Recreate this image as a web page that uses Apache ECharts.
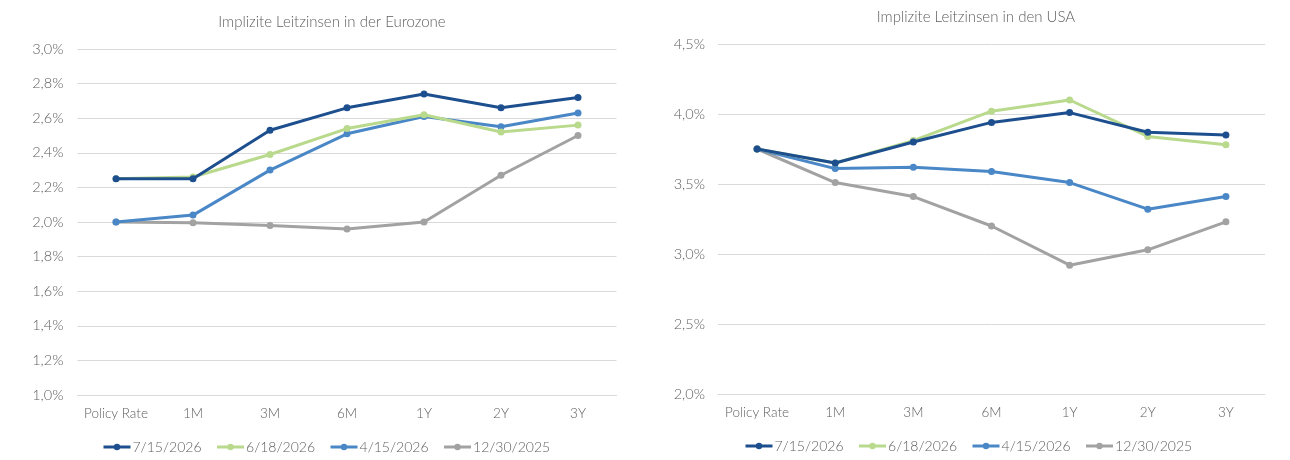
<!DOCTYPE html>
<html>
<head>
<meta charset="utf-8">
<script src="https://cdn.jsdelivr.net/npm/echarts@6/dist/echarts.min.js"></script>
<style>html,body{margin:0;padding:0;background:#fff;}#c{width:1290px;height:460px;}</style>
</head>
<body>
<div id="c"></div>
<script>
const categories = ['Policy Rate', '1M', '3M', '6M', '1Y', '2Y', '3Y'];
const seriesNames = ['7/15/2026', '6/18/2026', '4/15/2026', '12/30/2025'];
const colors = ['#1d4f8f', '#b9d98c', '#4a87c6', '#a2a2a2'];

const euro_0715 = [2.25, 2.25, 2.53, 2.66, 2.74, 2.66, 2.72];
const euro_0618 = [2.25, 2.26, 2.39, 2.54, 2.62, 2.52, 2.56];
const euro_0415 = [2.00, 2.04, 2.30, 2.51, 2.61, 2.55, 2.63];
const euro_1230 = [2.00, 1.995, 1.98, 1.96, 2.00, 2.27, 2.50];

const usa_0715 = [3.75, 3.65, 3.80, 3.94, 4.01, 3.87, 3.85];
const usa_0618 = [3.75, 3.65, 3.81, 4.02, 4.10, 3.84, 3.78];
const usa_0415 = [3.75, 3.61, 3.62, 3.59, 3.51, 3.32, 3.41];
const usa_1230 = [3.75, 3.51, 3.41, 3.20, 2.92, 3.03, 3.23];

const euroTitle = 'Implizite Leitzinsen in der Eurozone';
const usaTitle = 'Implizite Leitzinsen in den USA';

const euroData = [euro_0715, euro_0618, euro_0415, euro_1230];
const usaData = [usa_0715, usa_0618, usa_0415, usa_1230];

const font = 'Lato, "Open Sans", sans-serif';
const txt = '#606060';
const fmt = v => v.toFixed(1).replace('.', ',') + '%';

function mkSeries(dataArr, idx) {
  return dataArr.map((d, i) => ({
    name: seriesNames[i],
    type: 'line',
    xAxisIndex: idx,
    yAxisIndex: idx,
    data: d,
    symbol: 'circle',
    symbolSize: 7,
    color: colors[i],
    lineStyle: { width: 3, color: colors[i] },
    itemStyle: { color: colors[i] },
    z: 10 - i
  }));
}

const chart = echarts.init(document.getElementById('c'), null, { renderer: 'canvas' });
const axisX = gi => ({
  type: 'category', gridIndex: gi, data: categories, boundaryGap: true,
  axisLine: { show: true, lineStyle: { color: '#d9d9d9' } },
  axisTick: { show: false },
  axisLabel: { color: txt, fontFamily: font, fontSize: 13.5, margin: 12, interval: 0, fontWeight: 300 }
});
const legendBase = {
  data: seriesNames, itemWidth: 27, itemHeight: 8, itemGap: 14,
  lineStyle: { width: 3 },
  textStyle: { color: txt, fontFamily: font, fontSize: 14, fontWeight: 300, padding: [0, 0, 0, -3] }
};
const titleStyle = { color: txt, fontFamily: font, fontSize: 15, fontWeight: 300 };
chart.setOption({
  animation: false,
  backgroundColor: '#fff',
  title: [
    { text: euroTitle, left: 327, top: 10, textAlign: 'center', textStyle: titleStyle },
    { text: usaTitle, left: 971, top: 5, textAlign: 'center', textStyle: titleStyle }
  ],
  legend: [
    Object.assign({}, legendBase, { left: 97, top: 435 }),
    Object.assign({}, legendBase, { left: 739, top: 434 })
  ],
  grid: [
    { left: 77.5, right: 673.5, top: 49, bottom: 65 },
    { left: 718, right: 25, top: 44, bottom: 66 }
  ],
  xAxis: [axisX(0), axisX(1)],
  yAxis: [
    { type: 'value', gridIndex: 0, min: 1.0, max: 3.0, interval: 0.2,
      axisLine: { show: false }, axisTick: { show: false },
      splitLine: { lineStyle: { color: '#d9d9d9' } },
      axisLabel: { color: txt, fontFamily: font, fontSize: 14.5, fontWeight: 300, margin: 14, formatter: fmt } },
    { type: 'value', gridIndex: 1, min: 2.0, max: 4.5, interval: 0.5,
      axisLine: { show: false }, axisTick: { show: false },
      splitLine: { lineStyle: { color: '#d9d9d9' } },
      axisLabel: { color: txt, fontFamily: font, fontSize: 14.5, fontWeight: 300, margin: 13, formatter: fmt } }
  ],
  series: mkSeries(euroData, 0).concat(mkSeries(usaData, 1))
});
</script>
</body>
</html>
